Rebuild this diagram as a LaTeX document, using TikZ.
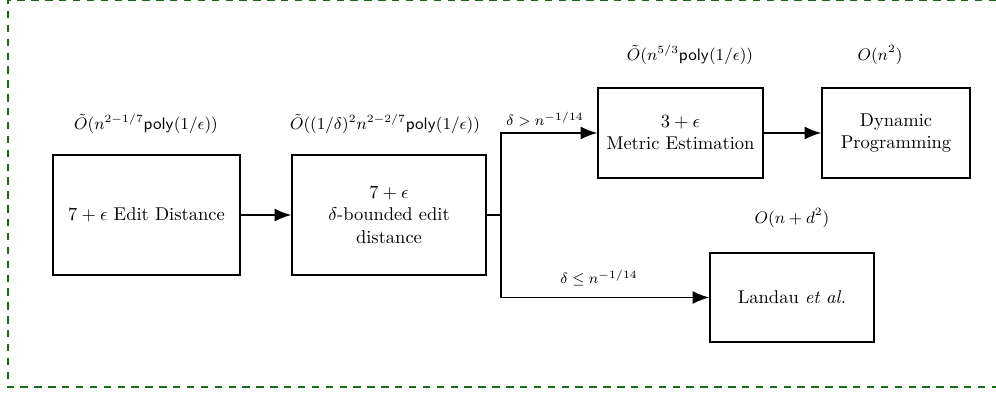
\documentclass[tikz,border=0pt]{standalone}
\usepackage{amsmath}
\usetikzlibrary{arrows.meta}
\definecolor{framegreen}{RGB}{20,110,20}
\tikzset{
  blk/.style={draw, line width=0.8pt, align=center, inner sep=2pt},
  conn/.style={line width=0.8pt, -{Latex[length=9pt,width=7pt]}},
  line/.style={line width=0.8pt},
  cost/.style={inner sep=0pt, font=\small},
  cond/.style={inner sep=0pt, font=\footnotesize},
  frame/.style={draw=framegreen, line width=1.1pt, dash pattern=on 4pt off 3.5pt}
}
\begin{document}
\begin{tikzpicture}[x=0.019cm, y=-0.019cm]
\useasboundingbox (0,0) rectangle (996,393);
\draw[frame] (1010,0) -- (8,0) -- (8,387) -- (1010,387);
% boxes
\node[blk, minimum width=3.553cm, minimum height=2.28cm] (b1) at (146.5,215) {$7+\epsilon$ Edit Distance};
\node[blk, minimum width=3.686cm, minimum height=2.28cm] (b2) at (389,215) {$7+\epsilon$\\$\delta$-bounded edit\\distance};
\node[blk, minimum width=3.135cm, minimum height=1.71cm] (b3) at (680.5,133) {$3+\epsilon$\\Metric Estimation};
\node[blk, minimum width=2.812cm, minimum height=1.71cm] (b4) at (896,133) {Dynamic\\Programming};
\node[blk, minimum width=3.116cm, minimum height=1.691cm] (b5) at (792,297.5) {Landau \emph{et al.}};
% cost labels
\node[cost] (c1) at (146,124) {$\tilde{O}(n^{2-1/7}\mathsf{poly}(1/\epsilon))$};
\node[cost] (c2) at (385,124) {$\tilde{O}((1/\delta)^2 n^{2-2/7}\mathsf{poly}(1/\epsilon))$};
\node[cost] (c3) at (690,55) {$\tilde{O}(n^{5/3}\mathsf{poly}(1/\epsilon))$};
\node[cost] (c4) at (880,55) {$O(n^2)$};
\node[cost] (c5) at (792,218) {$O(n+d^2)$};
% connectors
\coordinate (split) at (501,215);
\draw[conn] (b1) -- (b2);
\draw[line] (b2.east) -- (split);
\draw[conn] (split) |- (b3.west);
\draw[conn] (split) |- (b5.west);
\draw[conn] (b3) -- (b4);
\node[cond] (d1) at (545,119) {$\delta > n^{-1/14}$};
\node[cond] (d2) at (599,278) {$\delta \le n^{-1/14}$};
\end{tikzpicture}
\end{document}
